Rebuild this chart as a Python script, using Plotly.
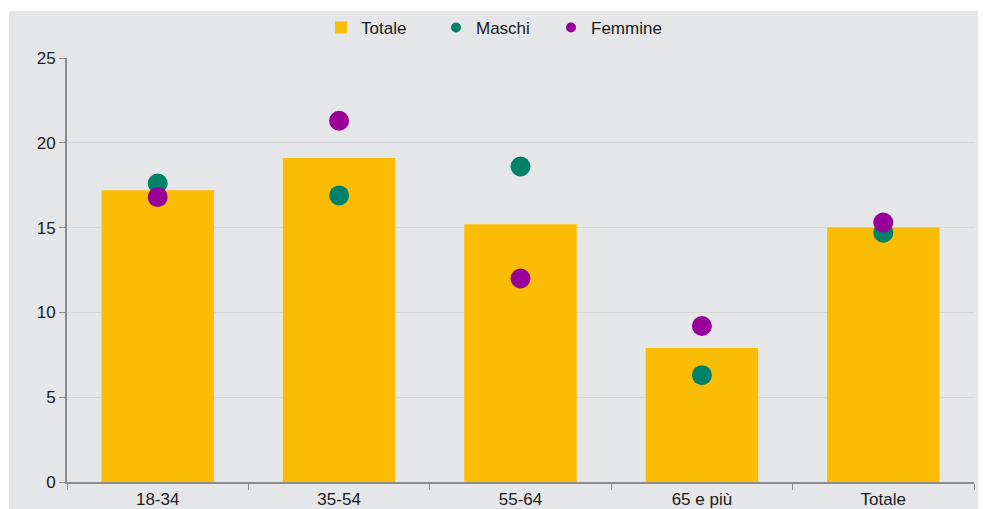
import plotly.graph_objects as go

categories = ["18-34", "35-54", "55-64", "65 e più", "Totale"]
totale = [17.2, 19.1, 15.2, 7.9, 15.0]
maschi = [17.6, 16.9, 18.6, 6.3, 14.7]
femmine = [16.8, 21.3, 12.0, 9.2, 15.3]

C_BAR = "#FBBC04"
C_M = "#00826A"
C_F = "#990099"
BG = "#E5E6E8"
FONT = "Liberation Sans, Arial, sans-serif"

fig = go.Figure()
fig.add_trace(go.Bar(x=categories, y=totale, name="Totale", marker_color=C_BAR,
                     marker_line_width=0, width=0.62))
fig.add_trace(go.Scatter(x=categories, y=maschi, name="Maschi", mode="markers",
                         marker=dict(color=C_M, size=20), showlegend=False))
fig.add_trace(go.Scatter(x=categories, y=femmine, name="Femmine", mode="markers",
                         marker=dict(color=C_F, size=20), showlegend=False))
# legend-only entries with small symbols
fig.add_trace(go.Scatter(x=[None], y=[None], name="Maschi", mode="markers",
                         marker=dict(color=C_M, size=10)))
fig.add_trace(go.Scatter(x=[None], y=[None], name="Femmine", mode="markers",
                         marker=dict(color=C_F, size=10)))

fig.update_layout(
    width=983, height=509,
    margin=dict(l=67, r=9, t=58, b=27),
    paper_bgcolor="white",
    plot_bgcolor=BG,
    font=dict(family=FONT, size=17, color="#1A1A1A"),
    showlegend=True,
    legend=dict(orientation="h", x=(321 - 67) / 907, xanchor="left", y=1.071, yanchor="middle",
                font=dict(size=17, color="#1A1A1A"), bgcolor="rgba(0,0,0,0)",
                itemwidth=30, entrywidth=70, traceorder="normal"),
    shapes=[dict(type="rect", xref="paper", yref="paper",
                 x0=(9 - 67) / 907, x1=(978 - 67) / 907,
                 y0=-0.2, y1=(482 - 11) / 424,
                 fillcolor=BG, line_width=0, layer="below")],
)
fig.update_xaxes(showgrid=False, showline=True, linecolor="#8C8C8C", linewidth=2,
                 ticks="outside", tickson="boundaries", ticklen=6, tickcolor="#8C8C8C",
                 tickwidth=1, tickfont=dict(size=17), automargin=False,
                 ticklabelstandoff=1)
fig.update_yaxes(range=[0, 25], dtick=5, showgrid=True, gridcolor="#D6D7D9", gridwidth=1,
                 showline=True, linecolor="#8C8C8C", linewidth=2, ticks="outside",
                 ticklen=6, tickcolor="#8C8C8C", tickfont=dict(size=17), zeroline=False,
                 automargin=False)

fig.write_html("out.html", config={"displayModeBar": False},
               post_script="document.body.style.margin='0';document.body.style.overflow='hidden';")
